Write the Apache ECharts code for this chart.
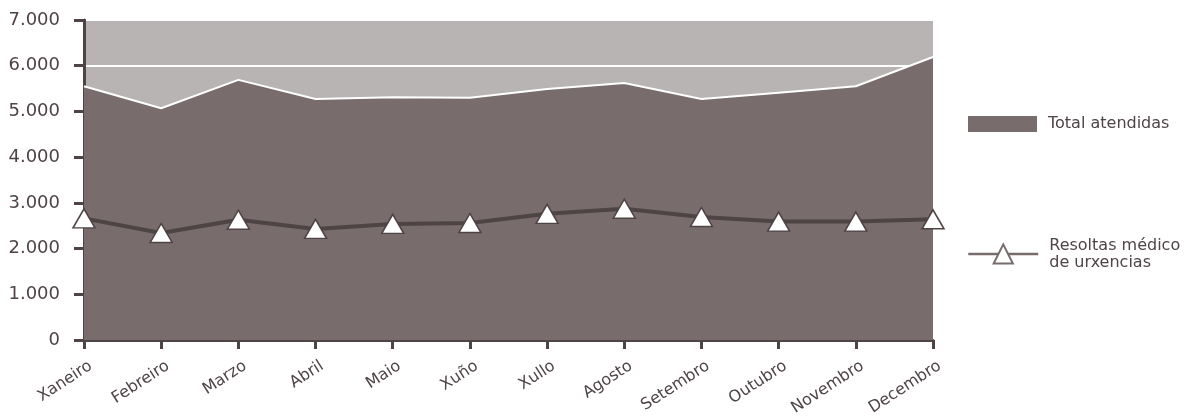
<!DOCTYPE html>
<html>
<head>
<meta charset="utf-8">
<script src="https://cdn.jsdelivr.net/npm/echarts@6/dist/echarts.min.js"></script>
<style>
html,body{margin:0;padding:0;background:#fff;}
#c{width:1186px;height:419px;}
</style>
</head>
<body>
<div id="c"></div>
<script>
const months = ['Xaneiro','Febreiro','Marzo','Abril','Maio','Xuño','Xullo','Agosto','Setembro','Outubro','Novembro','Decembro'];
const totalAtendidas = [5550, 5070, 5690, 5270, 5310, 5300, 5490, 5620, 5270, 5410, 5550, 6190];
const resoltasMedico = [2660, 2340, 2630, 2430, 2540, 2560, 2760, 2870, 2690, 2590, 2590, 2640];
const yTicks = [0, 1000, 2000, 3000, 4000, 5000, 6000, 7000];

const txt = '#4e4345';
const font = 'DejaVu Sans';
const chart = echarts.init(document.getElementById('c'));
chart.setOption({
  animation: false,
  textStyle: {fontFamily: font, color: txt},
  grid: {left: 84, right: 253, top: 20, bottom: 79, show: true, backgroundColor: '#b9b4b4', borderWidth: 0},
  legend: [
    {
      data: [{name: 'Total atendidas', icon: 'rect'}],
      left: 963, top: 111, orient: 'vertical',
      itemWidth: 69, itemHeight: 16, itemGap: 10,
      textStyle: {fontFamily: font, fontSize: 16, color: txt, padding: [0, 0, 0, 6]}
    },
    {
      data: [{name: 'Resoltas médico\nde urxencias'}],
      left: 962, top: 232, orient: 'vertical',
      itemWidth: 70, itemHeight: 24,
      lineStyle: {color: '#786c6d', width: 2.5},
      itemStyle: {color: '#ffffff', borderColor: '#786c6d', borderWidth: 2},
      textStyle: {fontFamily: font, fontSize: 16, color: txt, lineHeight: 17, padding: [0, 0, 0, 6]}
    }
  ],
  xAxis: {
    type: 'category', data: months, boundaryGap: false,
    axisLine: {lineStyle: {color: txt, width: 3}},
    axisTick: {show: true, length: 9, lineStyle: {color: txt, width: 3}, alignWithLabel: true},
    axisLabel: {rotate: 33, fontSize: 16, color: txt, margin: 29, padding: [0, -8, 0, 0], fontFamily: font},
    splitLine: {show: false}
  },
  yAxis: {
    type: 'value', min: yTicks[0], max: yTicks[yTicks.length - 1], interval: 1000,
    axisLine: {show: true, lineStyle: {color: txt, width: 3}},
    axisTick: {show: true, length: 10, lineStyle: {color: txt, width: 3}},
    axisLabel: {fontSize: 18, color: txt, margin: 24, fontFamily: font,
      formatter: v => v === 0 ? '0' : String(v).replace(/\B(?=(\d{3})+(?!\d))/g, '.')},
    splitLine: {show: true, lineStyle: {color: '#ffffff', width: 2}}
  },
  series: [
    {
      name: 'Total atendidas', type: 'line', data: totalAtendidas,
      symbol: 'none', z: 2,
      itemStyle: {color: '#786c6d'},
      lineStyle: {color: '#ffffff', width: 2},
      areaStyle: {color: '#786c6d', opacity: 1}
    },
    {
      name: 'Resoltas médico\nde urxencias', type: 'line', data: resoltasMedico,
      symbol: 'triangle', symbolSize: [22, 19], z: 5,
      itemStyle: {color: '#ffffff', borderColor: txt, borderWidth: 1.5},
      lineStyle: {color: txt, width: 4}
    }
  ]
});
</script>
</body>
</html>
